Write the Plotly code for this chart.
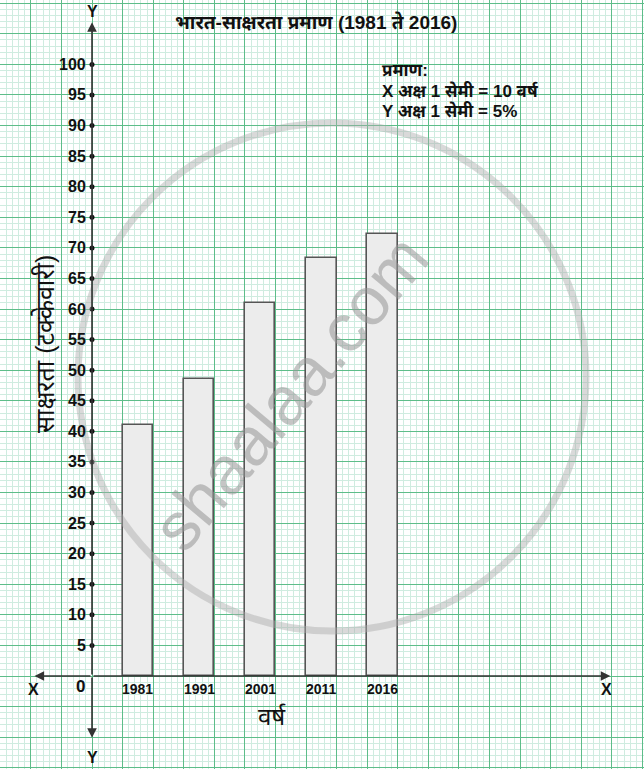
import plotly.graph_objects as go

# ---- data ----
years = ["1981", "1991", "2001", "2011", "2016"]
literacy = [41.0, 48.5, 61.0, 68.4, 72.2]
y_ticks = [5, 10, 15, 20, 25, 30, 35, 40, 45, 50, 55, 60, 65, 70, 75, 80, 85, 90, 95, 100]
title_text = "भारत-साक्षरता प्रमाण (1981 ते 2016)"
scale_lines = ["प्रमाण:", "X अक्ष 1 सेमी = 10 वर्ष", "Y अक्ष 1 सेमी = 5%"]
y_title = "साक्षरता (टक्केवारी)"
x_title = "वर्ष"

W, H = 644, 769
PX_X = 30.58   # px per x unit (1 cm)
PX_Y = 6.116   # px per y unit (1 %)
OX, OY = 92, 676  # origin in pixels

x_range = [-OX / PX_X, (W - OX) / PX_X]
y_range = [-(H - OY) / PX_Y, OY / PX_Y]

FONT = "Liberation Sans, Arial, Noto Sans Devanagari, sans-serif"
MAJOR = "#5dbd89"
MINOR = "#cfece0"
AXC = "#333333"

bar_x = [2 * i + 1.5 for i in range(len(years))]

fig = go.Figure()
fig.add_trace(go.Bar(
    x=bar_x, y=literacy, width=1.0,
    marker=dict(color="#ececec", line=dict(color="#555555", width=1.6)),
    hoverinfo="skip", showlegend=False,
))

# tick dots on the Y axis
fig.add_trace(go.Scatter(
    x=[0] * len(y_ticks), y=y_ticks, mode="markers",
    marker=dict(color="#111", size=5), hoverinfo="skip", showlegend=False,
))

ann = []
for t in y_ticks:
    ann.append(dict(x=0, y=t, text=f"<b>{t}</b>", showarrow=False, xanchor="right",
                    yanchor="middle", xshift=-4, font=dict(size=16, color="#111", family=FONT)))
for xv, yr in zip(bar_x, years):
    ann.append(dict(x=xv, y=0, text=f"<b>{yr}</b>", showarrow=False, xanchor="center",
                    yanchor="top", yshift=-3, font=dict(size=14, color="#111", family=FONT)))

# axes with arrows
def arrow(x1, y1):
    return dict(x=x1, y=y1, ax=0, ay=0, xref="x", yref="y", axref="x", ayref="y",
                showarrow=True, arrowhead=2, arrowsize=1.2, arrowwidth=1.6, arrowcolor=AXC, text="")

ann += [arrow(-1.88, 0), arrow(16.95, 0), arrow(0, 106.9), arrow(0, -10.1)]

def lab(x, y, text, size=15, bold=True, xanchor="center", **kw):
    t = f"<b>{text}</b>" if bold else text
    d = dict(x=x, y=y, xref="paper", yref="paper", text=t, showarrow=False,
             xanchor=xanchor, yanchor="middle",
             font=dict(size=size, color="#111", family=FONT))
    d.update(kw)
    return d

def px(xp, yp):
    return xp / W, 1 - yp / H

ann.append(lab(*px(33, 689), "X", size=16))
ann.append(lab(*px(606, 689), "X", size=16))
ann.append(lab(*px(92, 12), "Y", size=16))
ann.append(lab(*px(92, 757), "Y", size=16))
ann.append(lab(*px(80, 686), "0", size=17))
ann.append(lab(*px(316, 22), title_text, size=19))
for i, line in enumerate(scale_lines):
    ann.append(lab(*px(380, 71 + i * 20), line, size=17, xanchor="left"))
ann.append(lab(*px(45, 344), y_title, size=25, bold=False, textangle=-90))
ann.append(lab(*px(272, 716), x_title, size=24, bold=False))

# watermark
ann.append(dict(x=px(290, 392)[0], y=px(290, 392)[1], xref="paper", yref="paper",
                xanchor="center", yanchor="middle",
                text="shaalaa.com", showarrow=False, textangle=-50,
                font=dict(size=68, color="rgba(150,150,150,0.55)", family="Liberation Sans, Arial")))

cx, cy, r = 332, 377, 254
shapes = [dict(type="circle", xref="paper", yref="paper",
               x0=(cx - r) / W, x1=(cx + r) / W, y0=1 - (cy + r) / H, y1=1 - (cy - r) / H,
               line=dict(color="rgba(170,170,170,0.45)", width=7), layer="above")]

fig.update_layout(
    width=W, height=H, autosize=False,
    margin=dict(l=0, r=0, t=0, b=0),
    plot_bgcolor="white", paper_bgcolor="white",
    annotations=ann, shapes=shapes,
    xaxis=dict(range=x_range, showticklabels=False, ticks="", zeroline=False,
               showgrid=True, gridcolor=MAJOR, gridwidth=1, tick0=0, dtick=1,
               minor=dict(dtick=0.2, showgrid=True, gridcolor=MINOR, gridwidth=1),
               fixedrange=True),
    yaxis=dict(range=y_range, showticklabels=False, ticks="", zeroline=False,
               showgrid=True, gridcolor=MAJOR, gridwidth=1, tick0=0, dtick=5,
               minor=dict(dtick=1, showgrid=True, gridcolor=MINOR, gridwidth=1),
               fixedrange=True),
    bargap=0,
)

fig.write_html("out.html", config={"displayModeBar": False},
               post_script="document.body.style.margin='0';document.body.style.overflow='hidden';")
